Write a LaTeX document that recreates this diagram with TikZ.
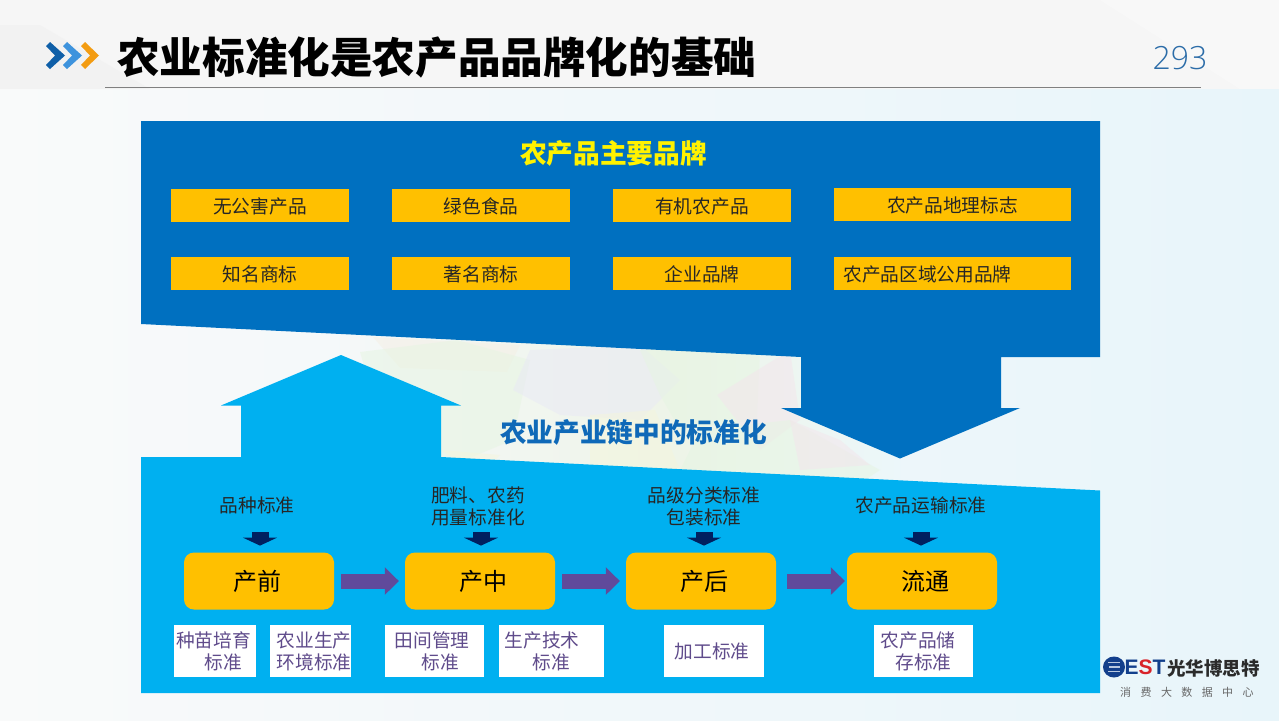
\documentclass[tikz,border=0pt]{standalone}
\usepackage{fontspec}
\usetikzlibrary{arrows.meta,calc}
\setmainfont{Noto Sans CJK SC}
\newfontfamily\numfont{Open Sans Light}
\newfontfamily\latinb{Liberation Sans}
\definecolor{deepblue}{HTML}{0070C0}
\definecolor{skyblue}{HTML}{00B0F0}
\definecolor{goldbox}{HTML}{FFC000}
\definecolor{navyarrow}{HTML}{002060}
\definecolor{purplearrow}{HTML}{604A9B}
\definecolor{purpletext}{HTML}{5F4B8B}
\definecolor{bgleft}{HTML}{F9FAFA}
\definecolor{bgright}{HTML}{E8F5FA}
\definecolor{bgband}{HTML}{F6F6F6}
\definecolor{bgA}{HTML}{F5F8F9}
\definecolor{bgB}{HTML}{EEF4E8}
\definecolor{bgC}{HTML}{ECF7FA}
\definecolor{palelav}{HTML}{E9E9F5}
\definecolor{palegreen}{HTML}{E6F5E2}
\definecolor{palepeach}{HTML}{F4EFE4}
\definecolor{palepink}{HTML}{F3E5EC}
\definecolor{paleyellow}{HTML}{F4F5DC}
\definecolor{chevA}{HTML}{0F5FA8}
\definecolor{chevB}{HTML}{3E93DD}
\definecolor{chevC}{HTML}{F39C12}
\definecolor{pagenum}{HTML}{2B6CA8}
\definecolor{chainblue}{HTML}{0F69B8}
\definecolor{logonavy}{HTML}{123F8C}
\definecolor{logostripe}{HTML}{B8C8E0}
\definecolor{logored}{HTML}{D8232A}
\definecolor{logotext}{HTML}{2B2B2B}
\newcommand{\lineshift}[1]{\hspace*{#1pt}}
\tikzset{
  x=1pt,y=-1pt,
  goldlabel/.style={fill=goldbox,inner sep=0pt,text depth=-3pt,font=\fontsize{18.7}{22}\selectfont,text=black!85},
  stagebox/.style={fill=goldbox,rounded corners=10pt,minimum width=150pt,minimum height=57pt,inner sep=0pt,font=\fontsize{24}{28}\selectfont},
  whitebox/.style={fill=white,inner sep=0pt,align=center,text=purpletext,font=\fontsize{18.7}{22}\selectfont},
  stdtext/.style={align=center,inner sep=0pt,font=\fontsize{18.7}{22}\selectfont,text=black!85},
  headtext/.style={inner sep=0pt,font=\fontsize{26.7}{30}\selectfont\bfseries},
  flowarrow/.style={draw=purplearrow,line width=15pt,-{Triangle[length=14pt,width=27pt]}},
  downarrow/.style={draw=navyarrow,line width=17pt,-{Triangle[length=8pt,width=34pt]},shorten >=6.7pt},
  facet/.style={opacity=.5},
}
\begin{document}
\begin{tikzpicture}
\useasboundingbox (0,0) rectangle (1279,720);
% background
\fill[left color=bgleft,right color=bgright] (0,89) rectangle (1279,720);
\fill[bgband] (0,0) rectangle (1279,89);
\fill[black!8,opacity=.3] (0,25) -- (40,25) -- (150,89) -- (0,89) -- cycle;
\fill[white,opacity=.3] (1100,0) -- (1279,0) -- (1279,89) -- (1240,89) -- cycle;
% pale facets behind the arrows
\fill[left color=bgA,right color=bgB] (340,330) rectangle (680,495);
\fill[left color=bgB,right color=bgC] (680,330) rectangle (900,495);
\fill[palepeach,facet] (373,337) -- (520,345) -- (507,372) -- (400,368) -- cycle;
\fill[palegreen,facet] (360,352) -- (457,340) -- (530,360) -- (513,440) -- (441,470) -- (380,420) -- cycle;
\fill[palelav,facet] (513,390) -- (530,350) -- (640,345) -- (680,380) -- (640,420) -- (560,415) -- cycle;
\fill[palegreen,facet] (640,350) -- (760,350) -- (757,420) -- (680,430) -- (660,395) -- cycle;
\fill[paleyellow,facet] (590,415) -- (655,410) -- (680,470) -- (590,475) -- cycle;
\fill[palepink,facet] (717,395) -- (790,350) -- (800,420) -- (760,450) -- cycle;
\fill[palegreen,facet] (680,470) -- (700,430) -- (790,420) -- (880,470) -- (850,490) -- cycle;
\fill[palepink,facet] (790,420) -- (840,440) -- (870,465) -- (800,470) -- cycle;
\fill[paleyellow,facet] (441,450) -- (500,455) -- (480,475) -- cycle;
% big shapes
\fill[deepblue] (141,121) -- (1100,121) -- (1100,357) -- (1001,357) -- (1001,408) -- (1020,408) -- (900,458.5) -- (781,408) -- (801,408) -- (801,357) -- (141,324) -- cycle;
\fill[skyblue] (141,457) -- (241,457) -- (241,405.5) -- (221,405.5) -- (341,355) -- (461,405.5) -- (441,405.5) -- (441,457) -- (1100,490.5) -- (1100,693) -- (141,693) -- cycle;
% header
\fill[chevA] (46,46) -- (50,42) -- (65,55.5) -- (50,69) -- (46,65) -- (55,55.5) -- cycle;
\fill[chevB] (63,46) -- (67,42) -- (82,55.5) -- (67,69) -- (63,65) -- (72,55.5) -- cycle;
\fill[chevC] (81,46) -- (85,42) -- (99,55.5) -- (85,69) -- (81,65) -- (90,55.5) -- cycle;
\node[inner sep=0pt,anchor=west,font=\fontsize{42.6}{48}\selectfont\bfseries,text=black] (title) at (117,58) {农业标准化是农产品品牌化的基础};
\node[inner sep=0pt,font=\fontsize{32}{38}\selectfont\numfont,text=pagenum] (page) at (1180,58) {293};
\draw[gray,line width=1pt] (105,87.5) -- (1201,87.5);
% brand panel
\node[headtext,text=yellow] (brandhead) at (613.5,153) {农产品主要品牌};
\node[goldlabel,minimum width=178pt,minimum height=33pt] (b1) at (260,205.5) {无公害产品};
\node[goldlabel,minimum width=178pt,minimum height=33pt] (b2) at (481,205.5) {绿色食品};
\node[goldlabel,minimum width=178pt,minimum height=33pt] (b3) at (702,205.5) {有机农产品};
\node[goldlabel,minimum width=237pt,minimum height=33pt] (b4) at (952.5,204.5) {农产品地理标志};
\node[goldlabel,minimum width=178pt,minimum height=33pt] (b5) at (260,273.5) {知名商标};
\node[goldlabel,minimum width=178pt,minimum height=33pt] (b6) at (481,273.5) {著名商标};
\node[goldlabel,minimum width=178pt,minimum height=33pt] (b7) at (702,273.5) {企业品牌};
\node[goldlabel,minimum width=237pt,minimum height=33pt] (b8) at (952.5,273.5) {\lineshift{-50}农产品区域公用品牌};
% chain panel
\node[headtext,text=chainblue] (chainhead) at (633.5,432) {农业产业链中的标准化};
\node[stdtext] (t1) at (257,505.5) {品种标准};
\node[stdtext] (t2) at (478,506.5) {肥料、农药\\用量标准化};
\node[stdtext] (t3) at (704,506.5) {品级分类标准\\包装标准};
\node[stdtext] (t4) at (921,505) {农产品运输标准};
\node[stagebox] (pre) at (259,581) {\raisebox{-3pt}{\lineshift{-4}产前}};
\node[stagebox] (mid) at (480,581) {\raisebox{-5pt}{\lineshift{6}产中}};
\node[stagebox] (post) at (701,581) {\raisebox{-5pt}{\lineshift{6}产后}};
\node[stagebox] (flow) at (922,581) {\raisebox{-5pt}{\lineshift{6}流通}};
\coordinate (d1) at (260,532);
\coordinate (d2) at (481,532);
\coordinate (d3) at (704,532);
\coordinate (d4) at (921,532);
\draw[downarrow] (d1) -- (d1 |- pre.north);
\draw[downarrow] (d2) -- (d2 |- mid.north);
\draw[downarrow] (d3) -- (d3 |- post.north);
\draw[downarrow] (d4) -- (d4 |- flow.north);
\draw[flowarrow,shorten <=7pt,shorten >=6pt] (pre) -- (mid);
\draw[flowarrow,shorten <=7pt,shorten >=6pt] (mid) -- (post);
\draw[flowarrow,shorten <=11pt,shorten >=2pt] (post) -- (flow);
\node[whitebox,minimum width=82pt,minimum height=52pt] (w1) at (215,651.3) {\lineshift{-3}种苗培育\\\lineshift{16}标准};
\node[whitebox,minimum width=81pt,minimum height=52pt] (w2) at (310.5,651.3) {\lineshift{7}农业生产\\\lineshift{7}环境标准};
\node[whitebox,minimum width=99pt,minimum height=52pt] (w3) at (434.5,651.3) {\lineshift{-5}田间管理\\\lineshift{11}标准};
\node[whitebox,minimum width=105pt,minimum height=52pt] (w4) at (551.5,651.3) {\lineshift{-19}生产技术\\标准};
\node[whitebox,minimum width=100pt,minimum height=52pt] (w5) at (714,651.3) {\lineshift{-4}加工标准};
\node[whitebox,minimum width=99pt,minimum height=52pt] (w6) at (923.5,651.3) {\lineshift{-11}农产品储\\存标准};
% logo
\fill[logonavy] (1114,667) circle[x radius=11,y radius=10.5];
\draw[logostripe,line width=1.8pt] (1108,662.5) -- (1120,662.5) (1109,667) -- (1120,667) (1108,671.5) -- (1120,671.5);
\node[inner sep=0pt,anchor=west,font=\fontsize{21}{24}\selectfont\latinb\bfseries] (logoest) at (1124.5,667) {\textcolor{logonavy}{E}\textcolor{logored}{S}\textcolor{logonavy}{T}};
\node[inner sep=0pt,anchor=west,font=\fontsize{18.5}{22}\selectfont\bfseries,text=logotext] (logocn) at (1167,668) {光华博思特};
\node[inner sep=0pt,anchor=west,font=\fontsize{11}{13}\selectfont,text=black!60] (logosub) at (1120,692) {消\hspace{9.4pt}费\hspace{9.4pt}大\hspace{9.4pt}数\hspace{9.4pt}据\hspace{9.4pt}中\hspace{9.4pt}心};
\end{tikzpicture}
\end{document}
